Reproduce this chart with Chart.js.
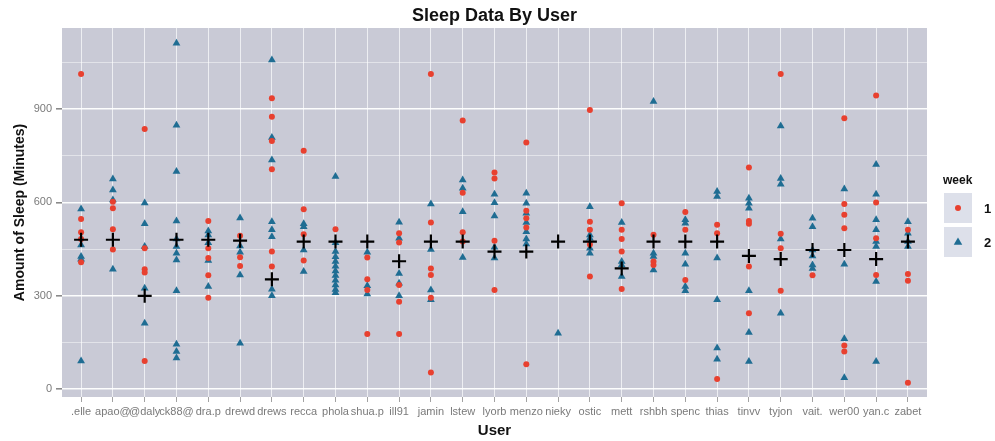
<!DOCTYPE html>
<html>
<head>
<meta charset="utf-8">
<script src="https://cdn.jsdelivr.net/npm/chart.js@4/dist/chart.umd.min.js"></script>
<style>
  html, body { margin: 0; padding: 0; background: #ffffff; }
  #wrap { width: 995px; height: 441px; }
</style>
</head>
<body>
<div id="wrap"><canvas id="c" width="995" height="441"></canvas></div>
<script>
// Users shown along the x axis (truncated handles)
const users = ['.elle', 'apao@', '@daly', 'ck88@', 'dra.p', 'drewd', 'drews', 'recca', 'phola',
  'shua.p', 'ill91', 'jamin', 'lstew', 'lyorb', 'menzo', 'nieky', 'ostic', 'mett', 'rshbh',
  'spenc', 'thias', 'tinvv', 'tyjon', 'vait.', 'wer00', 'yan.c', 'zabet'];

// Nightly sleep in minutes, week 1, one list per user
const week1 = [
  [1012, 547, 504, 482, 408],
  [602, 581, 514, 449],
  [836, 453, 385, 375, 91],
  [],
  [540, 453, 421, 366, 294],
  [493, 424, 396],
  [934, 875, 797, 706, 442, 394],
  [766, 578, 498, 413],
  [514],
  [423, 353, 319, 177],
  [501, 471, 335, 281, 177],
  [1012, 535, 388, 367, 294, 54],
  [863, 631, 504, 474],
  [696, 677, 477, 319],
  [792, 573, 549, 519, 80],
  [],
  [897, 538, 512, 465, 362],
  [597, 512, 482, 442, 322],
  [496, 410, 399],
  [569, 512, 351],
  [528, 501, 33],
  [712, 540, 531, 394, 244],
  [1012, 499, 453, 316],
  [366],
  [870, 595, 560, 517, 140, 121],
  [943, 600, 485, 367],
  [512, 370, 348, 21]
];

// Nightly sleep in minutes, week 2, one list per user
const week2 = [
  [579, 463, 426, 417, 91],
  [675, 640, 608, 385],
  [598, 531, 458, 324, 212],
  [1111, 848, 699, 540, 482, 458, 437, 415, 316, 144, 121, 100],
  [508, 495, 470, 413, 330],
  [550, 460, 440, 367, 148],
  [1057, 808, 736, 538, 512, 490, 321, 300],
  [531, 522, 447, 378],
  [683, 470, 442, 425, 410, 395, 380, 365, 350, 335, 320, 310],
  [440, 332, 306],
  [536, 485, 372, 340, 300],
  [595, 449, 319, 287],
  [672, 645, 570, 423],
  [626, 599, 556, 456, 421],
  [629, 597, 565, 535, 506, 482, 466],
  [180],
  [586, 495, 485, 453, 437],
  [535, 410, 399, 362],
  [924, 437, 426, 383],
  [544, 533, 437, 401, 330, 316],
  [635, 619, 421, 287, 132, 96],
  [613, 597, 581, 316, 182, 89],
  [845, 677, 658, 482, 244],
  [549, 522, 447, 428, 399, 388],
  [643, 401, 162, 37],
  [722, 626, 544, 512, 474, 458, 346, 89],
  [538, 501, 474, 458]
];

// Per-user summary marker (minutes)
const summary = [480, 480, 300, 480, 480, 477, 353, 474, 474, 474, 411, 474, 474, 442, 442,
  474, 474, 388, 474, 474, 474, 428, 418, 447, 447, 418, 474];

// Y axis ticks: labelled majors and unlabelled minors
const yMajor = [0, 300, 600, 900];
const yMinor = [150, 450, 750, 1050];

const RED = '#e8402f';
const BLUE = '#1f6d93';
const PANEL = '#c9cad6';
const FONT = '"Liberation Sans", Arial, sans-serif';

function toPoints(lists) {
  const pts = [];
  lists.forEach((vals, i) => vals.forEach(v => pts.push({ x: i, y: v })));
  return pts;
}

// Grey panel behind the plotting area
const panelBg = {
  id: 'panelBg',
  beforeDraw(chart) {
    const { ctx, chartArea: a } = chart;
    ctx.save();
    ctx.fillStyle = PANEL;
    ctx.fillRect(a.left, a.top, a.right - a.left, a.bottom - a.top);
    ctx.restore();
  }
};

// Title centred over the panel and the "week" key on the right
const decorations = {
  id: 'decorations',
  afterDraw(chart) {
    const { ctx, chartArea: a } = chart;
    ctx.save();
    ctx.fillStyle = '#111';
    ctx.font = 'bold 18px ' + FONT;
    ctx.textAlign = 'center';
    ctx.textBaseline = 'middle';
    ctx.fillText('Sleep Data By User', (a.left + a.right) / 2, 16);

    const kx = 944, ky = 193;
    ctx.textAlign = 'left';
    ctx.font = 'bold 12px ' + FONT;
    ctx.fillText('week', kx - 1, 181);
    const keys = [
      { ds: chart.data.datasets[0], label: '1' },
      { ds: chart.data.datasets[1], label: '2' }
    ];
    keys.forEach((k, i) => {
      const y0 = ky + i * 34;
      ctx.fillStyle = '#dde0ea';
      ctx.fillRect(kx, y0, 28, 30);
      const cx = kx + 14, cy = y0 + 15;
      ctx.fillStyle = k.ds.backgroundColor;
      if (k.ds.pointStyle === 'triangle') {
        const r = 4.5;
        ctx.beginPath();
        ctx.moveTo(cx, cy - r);
        ctx.lineTo(cx + r * 0.95, cy + r * 0.6);
        ctx.lineTo(cx - r * 0.95, cy + r * 0.6);
        ctx.closePath();
        ctx.fill();
      } else {
        ctx.beginPath();
        ctx.arc(cx, cy, 3, 0, Math.PI * 2);
        ctx.fill();
      }
      ctx.fillStyle = '#111';
      ctx.font = 'bold 13px ' + FONT;
      ctx.textBaseline = 'middle';
      ctx.fillText(k.label, kx + 40, cy + 1);
    });
    ctx.restore();
  }
};

new Chart(document.getElementById('c'), {
  type: 'scatter',
  data: {
    datasets: [
      {
        label: '1',
        data: toPoints(week1),
        pointStyle: 'circle',
        pointRadius: 3,
        backgroundColor: RED,
        borderWidth: 0,
        order: 2
      },
      {
        label: '2',
        data: toPoints(week2),
        pointStyle: 'triangle',
        pointRadius: 4.5,
        backgroundColor: BLUE,
        borderWidth: 0,
        order: 3
      },
      {
        label: 'summary',
        data: summary.map((v, i) => ({ x: i, y: v })),
        pointStyle: 'cross',
        pointRadius: 7,
        borderColor: '#000',
        backgroundColor: '#000',
        borderWidth: 2.2,
        order: 1
      }
    ]
  },
  options: {
    responsive: false,
    animation: false,
    events: [],
    layout: { padding: { top: 28, right: 68, left: 0, bottom: 0 } },
    plugins: {
      legend: { display: false },
      title: { display: false },
      tooltip: { enabled: false }
    },
    scales: {
      x: {
        type: 'linear',
        min: -0.6,
        max: users.length - 1 + 0.6,
        afterBuildTicks(scale) {
          scale.ticks = users.map((u, i) => ({ value: i }));
        },
        afterFit(scale) { scale.height = 44; },
        border: { display: false },
        grid: {
          color: 'rgba(255,255,255,0.85)',
          lineWidth: 0.8,
          tickColor: '#8a8a8a',
          tickLength: 5,
          drawTicks: true
        },
        ticks: {
          autoSkip: false,
          maxRotation: 0,
          minRotation: 0,
          padding: 3,
          color: '#7a7a7a',
          font: { family: FONT, size: 11 },
          callback: v => users[v]
        },
        title: {
          display: true,
          text: 'User',
          color: '#111',
          padding: { top: 0, bottom: 1 },
          font: { family: FONT, size: 15, weight: 'bold' }
        }
      },
      y: {
        min: -25,
        max: 1160,
        afterBuildTicks(scale) {
          scale.ticks = yMajor.concat(yMinor).sort((a, b) => a - b).map(v => ({ value: v }));
        },
        afterFit(scale) { scale.width = 62; },
        border: { display: false },
        grid: {
          color: 'rgba(255,255,255,0.95)',
          lineWidth: ctx => (yMajor.includes(ctx.tick.value) ? 1.6 : 0.5),
          tickColor: ctx => (yMajor.includes(ctx.tick.value) ? '#8a8a8a' : 'rgba(0,0,0,0)'),
          tickLength: 6
        },
        ticks: {
          padding: 4,
          color: '#7a7a7a',
          font: { family: FONT, size: 11 },
          callback: v => (yMajor.includes(v) ? String(v) : '')
        },
        title: {
          display: true,
          text: 'Amount of Sleep (Minutes)',
          color: '#111',
          padding: { top: 12, bottom: 0 },
          font: { family: FONT, size: 14, weight: 'bold' }
        }
      }
    }
  },
  plugins: [panelBg, decorations]
});
</script>
</body>
</html>
